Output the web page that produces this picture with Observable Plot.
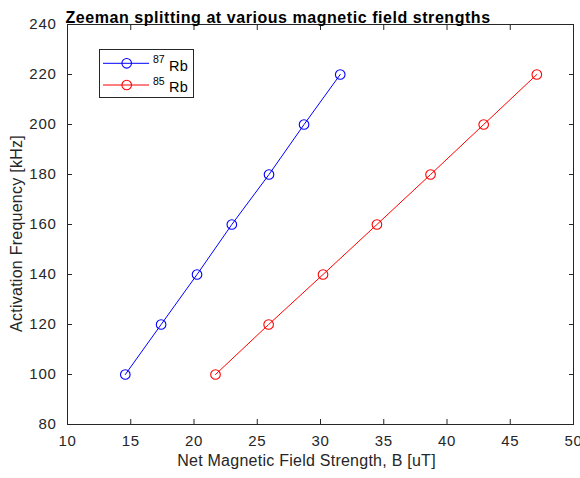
<!DOCTYPE html>
<html><head><meta charset="utf-8">
<script src="https://cdn.jsdelivr.net/npm/d3@7"></script>
<script src="https://cdn.jsdelivr.net/npm/@observablehq/plot@0.6"></script>
<style>
body{margin:0;background:#fff;font-family:"Liberation Sans",Arial,sans-serif}
#wrap{position:relative;width:580px;height:478px}
#legend{position:absolute;left:99px;top:49px}
</style></head><body><div id="wrap"><svg id="legend" width="96" height="50"></svg></div>
<script>
const freq = [100, 120, 140, 160, 180, 200, 220];
const rb87B = [14.57, 17.4, 20.24, 22.99, 25.93, 28.7, 31.56];
const rb85B = [21.7, 25.9, 30.2, 34.46, 38.7, 42.9, 47.1];
const seriesNames = ["87Rb", "85Rb"];
const seriesMass = ["87", "85"];
const seriesElement = "Rb";
const seriesColors = ["#0000ff", "#ff0000"];
const xTicks = [10, 15, 20, 25, 30, 35, 40, 45, 50];
const yTicks = [80, 100, 120, 140, 160, 180, 200, 220, 240];
const titleText = "Zeeman splitting at various magnetic field strengths";
const xLabel = "Net Magnetic Field Strength, B [uT]";
const yLabel = "Activation Frequency [kHz]";

const rows = [];
[rb87B, rb85B].forEach((bs, s) => bs.forEach((b, i) => rows.push({series: seriesNames[s], B: b, f: freq[i]})));

const ax = "#262626";
const chart = Plot.plot({
  width: 580, height: 478,
  marginTop: 24, marginBottom: 54, marginLeft: 67, marginRight: 7,
  style: {fontFamily: "'Liberation Sans', Arial, sans-serif", fontSize: "15px", color: ax, background: "white", overflow: "visible"},
  x: {domain: [10, 50]},
  y: {domain: [80, 240]},
  color: {domain: seriesNames, range: seriesColors},
  marks: [
    Plot.frame({stroke: ax}),
    Plot.axisX(xTicks, {anchor: "bottom", tickSize: -5, tickPadding: 16, stroke: ax, fill: ax, label: null}),
    Plot.axisX(xTicks, {anchor: "top", tickSize: -5, tickFormat: () => "", stroke: ax, label: null}),
    Plot.axisY(yTicks, {anchor: "left", tickSize: -5, tickPadding: 16, stroke: ax, fill: ax, label: null}),
    Plot.axisY(yTicks, {anchor: "right", tickSize: -5, tickFormat: () => "", stroke: ax, label: null}),
    Plot.line(rows, {x: "B", y: "f", z: "series", stroke: "series", strokeWidth: 1}),
    Plot.dot(rows, {x: "B", y: "f", stroke: "series", r: 4.8, strokeWidth: 1.1, fill: "none"}),
    Plot.text([titleText], {frameAnchor: "top-left", text: d => d, textAnchor: "start", dx: -2, dy: -13, fontWeight: "bold", fontSize: 16, fill: "#000", className: "ttl"}),
    Plot.text([xLabel], {frameAnchor: "bottom", text: d => d, textAnchor: "middle", dx: -14, dy: 41, fontSize: 16, fill: ax, className: "alab"}),
    Plot.text([yLabel], {frameAnchor: "left", text: d => d, textAnchor: "middle", rotate: -90, dx: -51, dy: 9, fontSize: 16, fill: ax, className: "alab"})
  ]
});
document.getElementById("wrap").prepend(chart);
const svg = d3.select(chart);
svg.selectAll('g[aria-label="x-axis tick label"] text, g[aria-label="y-axis tick label"] text').style("letter-spacing", "0.7px");
svg.selectAll('.ttl text').style("letter-spacing", "0.55px");
svg.selectAll('.alab text').style("letter-spacing", "0.25px");

const lg = d3.select("#legend");
lg.append("rect").attr("x", 0.5).attr("y", 0.5).attr("width", 94).attr("height", 48)
  .attr("fill", "#fff").attr("stroke", ax);
seriesNames.forEach((name, i) => {
  const oy = i * 21.7;
  lg.append("line").attr("x1", 4).attr("x2", 50).attr("y1", 14.3 + oy).attr("y2", 14.3 + oy)
    .attr("stroke", seriesColors[i]).attr("stroke-width", 1);
  lg.append("circle").attr("cx", 27.7).attr("cy", 14.3 + oy).attr("r", 4.8)
    .attr("fill", "none").attr("stroke", seriesColors[i]).attr("stroke-width", 1.1);
  lg.append("text").attr("x", 54).attr("y", 14 + oy).attr("font-size", 10.5).attr("fill", "#000")
    .attr("font-family", "'Liberation Sans', Arial, sans-serif").text(seriesMass[i]);
  lg.append("text").attr("x", 70).attr("y", 21.7 + oy).attr("font-size", 14.5).attr("fill", "#000")
    .attr("font-family", "'Liberation Sans', Arial, sans-serif").style("letter-spacing", "0.4px").text(seriesElement);
});
</script></body></html>
